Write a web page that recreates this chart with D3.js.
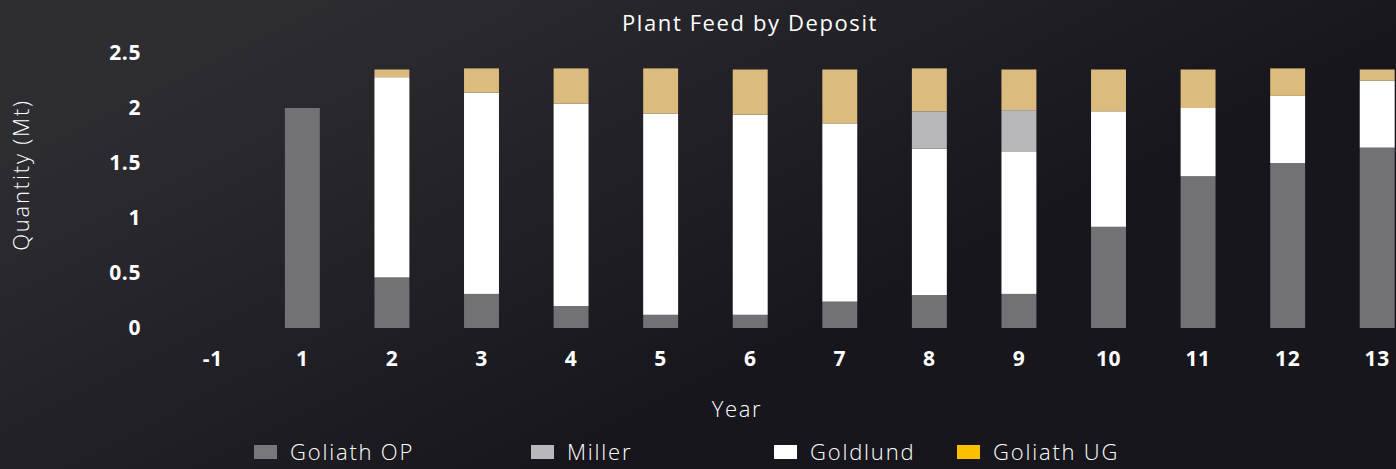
<!DOCTYPE html>
<html>
<head>
<meta charset="utf-8">
<script src="https://cdn.jsdelivr.net/npm/d3@7"></script>
<style>
  html, body { margin: 0; padding: 0; background: #18171d; }
  svg { display: block; font-family: "Open Sans", "DejaVu Sans", sans-serif; }
</style>
</head>
<body>
<div id="chart"></div>
<script>
var years = ["-1", "1", "2", "3", "4", "5", "6", "7", "8", "9", "10", "11", "12", "13"];
var goliath_op = [0, 2.0, 0.46, 0.31, 0.20, 0.12, 0.12, 0.24, 0.30, 0.31, 0.92, 1.38, 1.50, 1.64];
var miller     = [0, 0, 0, 0, 0, 0, 0, 0, 0.34, 0.38, 0, 0, 0, 0];
var goldlund   = [0, 0, 1.82, 1.83, 1.84, 1.83, 1.82, 1.62, 1.33, 1.29, 1.05, 0.62, 0.61, 0.61];
var goliath_ug = [0, 0, 0.07, 0.22, 0.32, 0.41, 0.41, 0.49, 0.39, 0.37, 0.38, 0.35, 0.25, 0.10];
var series_names = ["Goliath OP", "Miller", "Goldlund", "Goliath UG"];
// bottom-to-top order of the stack
var stack_order = ["Goliath OP", "Goldlund", "Miller", "Goliath UG"];
var y_ticks = [0, 0.5, 1, 1.5, 2, 2.5];

var bar_color = { "Goliath OP": "#727175", "Miller": "#b8b8ba", "Goldlund": "#ffffff", "Goliath UG": "#dbbb7e" };
var legend_color = ["#78777b", "#b8b8ba", "#ffffff", "#fcc000"];

var width = 1396;
var height = 469;
var plot_left = 168;
var plot_right = 1422;
var plot_bottom = 328;

var table = years.map(function (yr, i) {
    return { year: yr, "Goliath OP": goliath_op[i], "Miller": miller[i], "Goldlund": goldlund[i], "Goliath UG": goliath_ug[i] };
});

var svg = d3.select("#chart").append("svg")
    .attr("width", width)
    .attr("height", height);

// background
var grad = svg.append("defs").append("linearGradient")
    .attr("id", "bg")
    .attr("x1", "0").attr("y1", "0.3")
    .attr("x2", "0.6").attr("y2", "0.7");
grad.append("stop").attr("offset", "0").attr("stop-color", "#2d2d32");
grad.append("stop").attr("offset", "1").attr("stop-color", "#17161c");
svg.append("rect")
    .attr("width", width)
    .attr("height", height)
    .attr("fill", "url(#bg)");

var x = d3.scaleBand()
    .domain(years)
    .range([plot_left, plot_right])
    .paddingInner(0.61)
    .paddingOuter(0.305);

var y = d3.scaleLinear()
    .domain([0, 2.5])
    .range([plot_bottom, plot_bottom - 275]);

var stack = d3.stack().keys(stack_order)(table);

// bars
svg.append("g").selectAll("g")
    .data(stack)
    .join("g")
    .attr("fill", function (s) { return bar_color[s.key]; })
    .selectAll("rect")
    .data(function (s) { return s; })
    .join("rect")
    .attr("x", function (d) { return x(d.data.year); })
    .attr("width", x.bandwidth())
    .attr("y", function (d) { return y(d[1]); })
    .attr("height", function (d) { return Math.max(0, y(d[0]) - y(d[1])); });

// y axis
var yAxis = svg.append("g")
    .attr("transform", "translate(141,0)")
    .call(d3.axisLeft(y).tickValues(y_ticks).tickSize(0).tickPadding(0).tickFormat(d3.format("")));
yAxis.select(".domain").remove();
yAxis.selectAll("text")
    .attr("fill", "#ffffff")
    .attr("font-size", 21)
    .attr("font-weight", 700)
    .attr("letter-spacing", 0.6)
    .attr("font-family", "'Open Sans', sans-serif");

// x axis
var xAxis = svg.append("g")
    .attr("transform", "translate(0,351)")
    .call(d3.axisBottom(x).tickSize(0).tickPadding(0));
xAxis.select(".domain").remove();
xAxis.selectAll("text")
    .attr("fill", "#ffffff")
    .attr("font-size", 21)
    .attr("font-weight", 700)
    .attr("letter-spacing", 0.6)
    .attr("font-family", "'Open Sans', sans-serif");

// titles
svg.append("text")
    .attr("x", 750)
    .attr("y", 31)
    .attr("text-anchor", "middle")
    .attr("fill", "#ffffff")
    .attr("font-size", 22)
    .attr("letter-spacing", 1.6)
    .text("Plant Feed by Deposit");

svg.append("text")
    .attr("x", 737)
    .attr("y", 417)
    .attr("text-anchor", "middle")
    .attr("fill", "#ffffff")
    .attr("font-size", 22)
    .attr("font-weight", 300)
    .attr("letter-spacing", 1.6)
    .text("Year");

svg.append("text")
    .attr("transform", "translate(29,175) rotate(-90)")
    .attr("text-anchor", "middle")
    .attr("fill", "#ffffff")
    .attr("font-size", 22)
    .attr("font-weight", 300)
    .attr("letter-spacing", 1.8)
    .text("Quantity (Mt)");

// legend
var legend_x = [254, 531, 774, 957];
var legend = svg.append("g").selectAll("g")
    .data(series_names)
    .join("g")
    .attr("transform", function (d, i) { return "translate(" + legend_x[i] + ",452)"; });
legend.append("rect")
    .attr("x", 0)
    .attr("y", -7)
    .attr("width", 23)
    .attr("height", 14)
    .attr("fill", function (d, i) { return legend_color[i]; });
legend.append("text")
    .attr("x", 36)
    .attr("y", 8)
    .attr("fill", "#ffffff")
    .attr("font-size", 22)
    .attr("font-weight", 300)
    .attr("letter-spacing", 1.8)
    .text(function (d) { return d; });
</script>
</body>
</html>
